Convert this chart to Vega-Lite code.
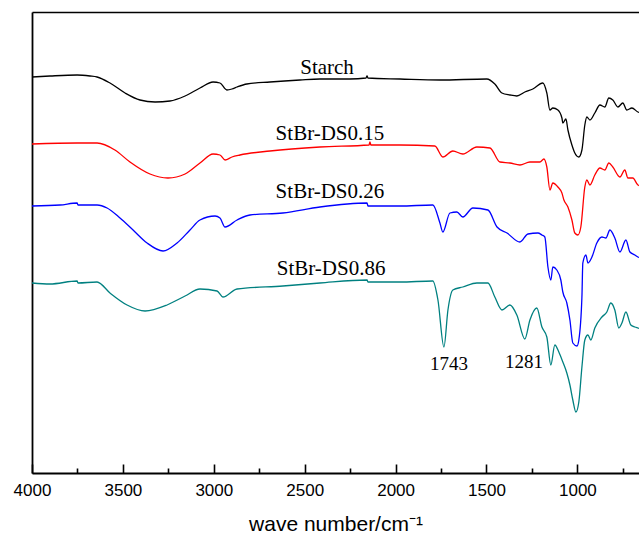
{
  "$schema": "https://vega.github.io/schema/vega-lite/v6.json",
  "width": 607,
  "height": 461,
  "autosize": {"type": "none"},
  "padding": {"left": 32, "top": 12, "right": 0, "bottom": 63},
  "background": "white",
  "config": {"view": {"stroke": null}},
  "datasets": {
    "spectra": [
      {"s":"Starch","wn":4000,"t":396},{"s":"Starch","wn":3901,"t":397},{"s":"Starch","wn":3752,"t":398},{"s":"Starch","wn":3681,"t":397},{"s":"Starch","wn":3642,"t":396},{"s":"Starch","wn":3571,"t":390},{"s":"Starch","wn":3488,"t":380},{"s":"Starch","wn":3406,"t":373},{"s":"Starch","wn":3323,"t":371},{"s":"Starch","wn":3241,"t":372},{"s":"Starch","wn":3158,"t":377},{"s":"Starch","wn":3076,"t":385},{"s":"Starch","wn":3004,"t":391},{"s":"Starch","wn":2966,"t":390},{"s":"Starch","wn":2928,"t":383},{"s":"Starch","wn":2900,"t":384},{"s":"Starch","wn":2872,"t":386},{"s":"Starch","wn":2818,"t":389},{"s":"Starch","wn":2691,"t":391},{"s":"Starch","wn":2526,"t":393},{"s":"Starch","wn":2416,"t":394},{"s":"Starch","wn":2251,"t":394},{"s":"Starch","wn":2163,"t":395},{"s":"Starch","wn":2157,"t":397},{"s":"Starch","wn":2152,"t":395},{"s":"Starch","wn":1976,"t":394},{"s":"Starch","wn":1756,"t":393},{"s":"Starch","wn":1498,"t":394},{"s":"Starch","wn":1454,"t":389},{"s":"Starch","wn":1415,"t":380},{"s":"Starch","wn":1371,"t":378},{"s":"Starch","wn":1333,"t":377},{"s":"Starch","wn":1289,"t":381},{"s":"Starch","wn":1245,"t":384},{"s":"Starch","wn":1190,"t":390},{"s":"Starch","wn":1168,"t":380},{"s":"Starch","wn":1151,"t":363},{"s":"Starch","wn":1135,"t":365},{"s":"Starch","wn":1107,"t":363},{"s":"Starch","wn":1085,"t":355},{"s":"Starch","wn":1080,"t":350},{"s":"Starch","wn":1063,"t":354},{"s":"Starch","wn":1052,"t":343},{"s":"Starch","wn":1030,"t":328},{"s":"Starch","wn":1014,"t":320},{"s":"Starch","wn":992,"t":316},{"s":"Starch","wn":975,"t":323},{"s":"Starch","wn":959,"t":348},{"s":"Starch","wn":948,"t":356},{"s":"Starch","wn":931,"t":353},{"s":"Starch","wn":904,"t":360},{"s":"Starch","wn":876,"t":368},{"s":"Starch","wn":849,"t":366},{"s":"Starch","wn":827,"t":375},{"s":"Starch","wn":805,"t":373},{"s":"Starch","wn":777,"t":366},{"s":"Starch","wn":750,"t":370},{"s":"Starch","wn":728,"t":363},{"s":"Starch","wn":700,"t":365},{"s":"Starch","wn":667,"t":361},{"s":"Starch","wn":650,"t":360},
      {"s":"StBr-DS0.15","wn":4000,"t":329},{"s":"StBr-DS0.15","wn":3752,"t":330},{"s":"StBr-DS0.15","wn":3642,"t":330},{"s":"StBr-DS0.15","wn":3544,"t":323},{"s":"StBr-DS0.15","wn":3461,"t":311},{"s":"StBr-DS0.15","wn":3351,"t":299},{"s":"StBr-DS0.15","wn":3252,"t":295},{"s":"StBr-DS0.15","wn":3158,"t":299},{"s":"StBr-DS0.15","wn":3076,"t":310},{"s":"StBr-DS0.15","wn":3004,"t":319},{"s":"StBr-DS0.15","wn":2966,"t":318},{"s":"StBr-DS0.15","wn":2938,"t":313},{"s":"StBr-DS0.15","wn":2900,"t":316},{"s":"StBr-DS0.15","wn":2856,"t":318},{"s":"StBr-DS0.15","wn":2691,"t":322},{"s":"StBr-DS0.15","wn":2416,"t":326},{"s":"StBr-DS0.15","wn":2146,"t":328},{"s":"StBr-DS0.15","wn":2141,"t":331},{"s":"StBr-DS0.15","wn":2136,"t":328},{"s":"StBr-DS0.15","wn":1976,"t":328},{"s":"StBr-DS0.15","wn":1784,"t":327},{"s":"StBr-DS0.15","wn":1740,"t":316},{"s":"StBr-DS0.15","wn":1685,"t":322},{"s":"StBr-DS0.15","wn":1630,"t":319},{"s":"StBr-DS0.15","wn":1553,"t":326},{"s":"StBr-DS0.15","wn":1481,"t":325},{"s":"StBr-DS0.15","wn":1426,"t":311},{"s":"StBr-DS0.15","wn":1371,"t":310},{"s":"StBr-DS0.15","wn":1316,"t":308},{"s":"StBr-DS0.15","wn":1261,"t":311},{"s":"StBr-DS0.15","wn":1206,"t":311},{"s":"StBr-DS0.15","wn":1184,"t":314},{"s":"StBr-DS0.15","wn":1168,"t":306},{"s":"StBr-DS0.15","wn":1151,"t":283},{"s":"StBr-DS0.15","wn":1135,"t":290},{"s":"StBr-DS0.15","wn":1107,"t":286},{"s":"StBr-DS0.15","wn":1085,"t":280},{"s":"StBr-DS0.15","wn":1074,"t":273},{"s":"StBr-DS0.15","wn":1052,"t":266},{"s":"StBr-DS0.15","wn":1030,"t":253},{"s":"StBr-DS0.15","wn":1014,"t":240},{"s":"StBr-DS0.15","wn":997,"t":238},{"s":"StBr-DS0.15","wn":981,"t":246},{"s":"StBr-DS0.15","wn":959,"t":286},{"s":"StBr-DS0.15","wn":948,"t":293},{"s":"StBr-DS0.15","wn":931,"t":288},{"s":"StBr-DS0.15","wn":904,"t":298},{"s":"StBr-DS0.15","wn":876,"t":305},{"s":"StBr-DS0.15","wn":849,"t":303},{"s":"StBr-DS0.15","wn":827,"t":310},{"s":"StBr-DS0.15","wn":805,"t":306},{"s":"StBr-DS0.15","wn":766,"t":296},{"s":"StBr-DS0.15","wn":739,"t":303},{"s":"StBr-DS0.15","wn":722,"t":295},{"s":"StBr-DS0.15","wn":695,"t":295},{"s":"StBr-DS0.15","wn":667,"t":288},{"s":"StBr-DS0.15","wn":650,"t":287},
      {"s":"StBr-DS0.26","wn":4000,"t":267},{"s":"StBr-DS0.26","wn":3846,"t":268},{"s":"StBr-DS0.26","wn":3752,"t":270},{"s":"StBr-DS0.26","wn":3747,"t":268},{"s":"StBr-DS0.26","wn":3642,"t":268},{"s":"StBr-DS0.26","wn":3587,"t":265},{"s":"StBr-DS0.26","wn":3516,"t":255},{"s":"StBr-DS0.26","wn":3444,"t":243},{"s":"StBr-DS0.26","wn":3367,"t":230},{"s":"StBr-DS0.26","wn":3279,"t":222},{"s":"StBr-DS0.26","wn":3202,"t":230},{"s":"StBr-DS0.26","wn":3131,"t":243},{"s":"StBr-DS0.26","wn":3076,"t":253},{"s":"StBr-DS0.26","wn":2993,"t":257},{"s":"StBr-DS0.26","wn":2966,"t":255},{"s":"StBr-DS0.26","wn":2938,"t":246},{"s":"StBr-DS0.26","wn":2872,"t":253},{"s":"StBr-DS0.26","wn":2801,"t":258},{"s":"StBr-DS0.26","wn":2620,"t":260},{"s":"StBr-DS0.26","wn":2416,"t":266},{"s":"StBr-DS0.26","wn":2157,"t":270},{"s":"StBr-DS0.26","wn":2152,"t":267},{"s":"StBr-DS0.26","wn":1976,"t":267},{"s":"StBr-DS0.26","wn":1795,"t":268},{"s":"StBr-DS0.26","wn":1756,"t":250},{"s":"StBr-DS0.26","wn":1740,"t":241},{"s":"StBr-DS0.26","wn":1701,"t":260},{"s":"StBr-DS0.26","wn":1663,"t":261},{"s":"StBr-DS0.26","wn":1630,"t":256},{"s":"StBr-DS0.26","wn":1575,"t":265},{"s":"StBr-DS0.26","wn":1492,"t":263},{"s":"StBr-DS0.26","wn":1442,"t":246},{"s":"StBr-DS0.26","wn":1387,"t":240},{"s":"StBr-DS0.26","wn":1316,"t":231},{"s":"StBr-DS0.26","wn":1272,"t":239},{"s":"StBr-DS0.26","wn":1217,"t":240},{"s":"StBr-DS0.26","wn":1195,"t":238},{"s":"StBr-DS0.26","wn":1179,"t":236},{"s":"StBr-DS0.26","wn":1162,"t":206},{"s":"StBr-DS0.26","wn":1146,"t":193},{"s":"StBr-DS0.26","wn":1135,"t":206},{"s":"StBr-DS0.26","wn":1113,"t":203},{"s":"StBr-DS0.26","wn":1091,"t":193},{"s":"StBr-DS0.26","wn":1080,"t":181},{"s":"StBr-DS0.26","wn":1058,"t":170},{"s":"StBr-DS0.26","wn":1041,"t":153},{"s":"StBr-DS0.26","wn":1025,"t":130},{"s":"StBr-DS0.26","wn":1002,"t":127},{"s":"StBr-DS0.26","wn":992,"t":133},{"s":"StBr-DS0.26","wn":975,"t":176},{"s":"StBr-DS0.26","wn":970,"t":210},{"s":"StBr-DS0.26","wn":953,"t":218},{"s":"StBr-DS0.26","wn":942,"t":210},{"s":"StBr-DS0.26","wn":920,"t":216},{"s":"StBr-DS0.26","wn":893,"t":230},{"s":"StBr-DS0.26","wn":865,"t":236},{"s":"StBr-DS0.26","wn":843,"t":235},{"s":"StBr-DS0.26","wn":821,"t":243},{"s":"StBr-DS0.26","wn":794,"t":235},{"s":"StBr-DS0.26","wn":766,"t":221},{"s":"StBr-DS0.26","wn":733,"t":233},{"s":"StBr-DS0.26","wn":711,"t":221},{"s":"StBr-DS0.26","wn":684,"t":218},{"s":"StBr-DS0.26","wn":667,"t":216},{"s":"StBr-DS0.26","wn":650,"t":215},
      {"s":"StBr-DS0.86","wn":4000,"t":190},{"s":"StBr-DS0.86","wn":3901,"t":189},{"s":"StBr-DS0.86","wn":3752,"t":192},{"s":"StBr-DS0.86","wn":3747,"t":190},{"s":"StBr-DS0.86","wn":3642,"t":191},{"s":"StBr-DS0.86","wn":3571,"t":180},{"s":"StBr-DS0.86","wn":3477,"t":168},{"s":"StBr-DS0.86","wn":3378,"t":162},{"s":"StBr-DS0.86","wn":3257,"t":168},{"s":"StBr-DS0.86","wn":3158,"t":177},{"s":"StBr-DS0.86","wn":3076,"t":184},{"s":"StBr-DS0.86","wn":2982,"t":182},{"s":"StBr-DS0.86","wn":2950,"t":176},{"s":"StBr-DS0.86","wn":2872,"t":184},{"s":"StBr-DS0.86","wn":2620,"t":187},{"s":"StBr-DS0.86","wn":2416,"t":190},{"s":"StBr-DS0.86","wn":2157,"t":193},{"s":"StBr-DS0.86","wn":2152,"t":191},{"s":"StBr-DS0.86","wn":1976,"t":191},{"s":"StBr-DS0.86","wn":1795,"t":192},{"s":"StBr-DS0.86","wn":1767,"t":173},{"s":"StBr-DS0.86","wn":1734,"t":126},{"s":"StBr-DS0.86","wn":1712,"t":163},{"s":"StBr-DS0.86","wn":1685,"t":183},{"s":"StBr-DS0.86","wn":1630,"t":186},{"s":"StBr-DS0.86","wn":1553,"t":190},{"s":"StBr-DS0.86","wn":1492,"t":190},{"s":"StBr-DS0.86","wn":1454,"t":176},{"s":"StBr-DS0.86","wn":1415,"t":163},{"s":"StBr-DS0.86","wn":1371,"t":168},{"s":"StBr-DS0.86","wn":1333,"t":158},{"s":"StBr-DS0.86","wn":1289,"t":134},{"s":"StBr-DS0.86","wn":1261,"t":153},{"s":"StBr-DS0.86","wn":1223,"t":165},{"s":"StBr-DS0.86","wn":1195,"t":146},{"s":"StBr-DS0.86","wn":1168,"t":136},{"s":"StBr-DS0.86","wn":1146,"t":108},{"s":"StBr-DS0.86","wn":1124,"t":128},{"s":"StBr-DS0.86","wn":1102,"t":121},{"s":"StBr-DS0.86","wn":1080,"t":111},{"s":"StBr-DS0.86","wn":1058,"t":100},{"s":"StBr-DS0.86","wn":1041,"t":88},{"s":"StBr-DS0.86","wn":1025,"t":73},{"s":"StBr-DS0.86","wn":1008,"t":61},{"s":"StBr-DS0.86","wn":992,"t":71},{"s":"StBr-DS0.86","wn":975,"t":106},{"s":"StBr-DS0.86","wn":959,"t":133},{"s":"StBr-DS0.86","wn":942,"t":138},{"s":"StBr-DS0.86","wn":926,"t":133},{"s":"StBr-DS0.86","wn":904,"t":145},{"s":"StBr-DS0.86","wn":865,"t":156},{"s":"StBr-DS0.86","wn":838,"t":161},{"s":"StBr-DS0.86","wn":816,"t":170},{"s":"StBr-DS0.86","wn":794,"t":163},{"s":"StBr-DS0.86","wn":772,"t":145},{"s":"StBr-DS0.86","wn":755,"t":150},{"s":"StBr-DS0.86","wn":733,"t":161},{"s":"StBr-DS0.86","wn":706,"t":148},{"s":"StBr-DS0.86","wn":684,"t":146},{"s":"StBr-DS0.86","wn":667,"t":145},{"s":"StBr-DS0.86","wn":650,"t":144}
    ],
    "names": [
      {"wn":2377,"t":399,"label":"Starch"},
      {"wn":2361,"t":333,"label":"StBr-DS0.15"},
      {"wn":2361,"t":275,"label":"StBr-DS0.26"},
      {"wn":2355,"t":198,"label":"StBr-DS0.86"}
    ],
    "peaks": [
      {"wn":1706,"t":103,"label":"1743"},
      {"wn":1294,"t":105,"label":"1281"}
    ]
  },
  "resolve": {"axis": {"x": "independent", "y": "independent"}},
  "layer": [
    {
      "data": {"name": "spectra"},
      "mark": {"type": "line", "strokeWidth": 1.3, "clip": true, "interpolate": "monotone"},
      "encoding": {
        "x": {"field": "wn", "type": "quantitative",
          "scale": {"domain": [4000, 661], "nice": false, "zero": false},
          "axis": {"orient": "top", "grid": false, "ticks": false, "labels": false, "title": null,
            "domainColor": "black", "domainWidth": 1.5}},
        "y": {"field": "t", "type": "quantitative",
          "scale": {"domain": [0, 461], "nice": false, "zero": false},
          "axis": {"orient": "left", "grid": false, "ticks": false, "labels": false, "title": null,
            "domain": true, "domainColor": "black", "domainWidth": 1.8}},
        "color": {"field": "s", "type": "nominal", "legend": null,
          "scale": {"domain": ["Starch","StBr-DS0.15","StBr-DS0.26","StBr-DS0.86"],
            "range": ["#000000","#ff0000","#0000ff","#008080"]}},
        "order": {"field": "wn", "type": "quantitative", "sort": "descending"}
      }
    },
    {
      "data": {"name": "names"},
      "mark": {"type": "text", "font": "Liberation Serif", "fontSize": 21, "align": "center", "baseline": "alphabetic", "color": "black"},
      "encoding": {
        "x": {"field": "wn", "type": "quantitative",
          "axis": {"orient": "bottom", "values": [4000,3500,3000,2500,2000,1500,1000], "format": "d", "grid": false,
            "tickSize": -9, "tickWidth": 1.6, "tickColor": "black", "domainColor": "black", "domainWidth": 1.8,
            "labelFont": "Liberation Sans", "labelFontSize": 17, "labelColor": "black", "labelPadding": 18, "labelFlush": false,
            "title": "wave number/cm⁻¹", "titleFont": "Liberation Sans", "titleFontSize": 21, "titleFontWeight": "normal",
            "titleColor": "black", "titlePadding": 15}},
        "y": {"field": "t", "type": "quantitative", "axis": null},
        "text": {"field": "label"}
      }
    },
    {
      "data": {"name": "peaks"},
      "mark": {"type": "text", "font": "Liberation Serif", "fontSize": 19, "align": "center", "baseline": "alphabetic", "color": "black"},
      "encoding": {
        "x": {"field": "wn", "type": "quantitative",
          "axis": {"orient": "bottom", "values": [3750,3250,2750,2250,1750,1250,750], "grid": false,
            "domain": false, "labels": false, "title": null, "tickSize": -5, "tickWidth": 1.6, "tickColor": "black"}},
        "y": {"field": "t", "type": "quantitative", "axis": null},
        "text": {"field": "label"}
      }
    }
  ]
}
